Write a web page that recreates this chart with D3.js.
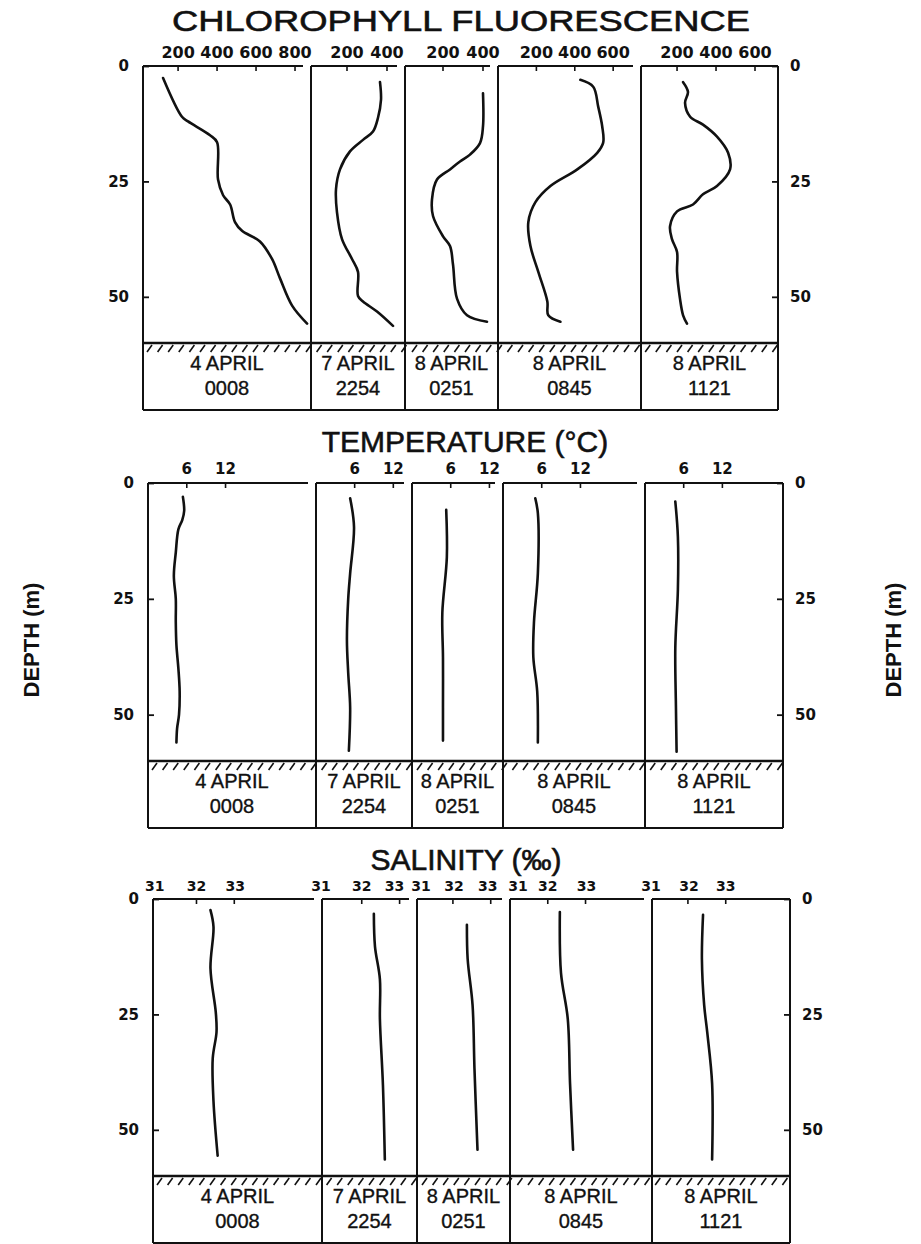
<!DOCTYPE html>
<html>
<head>
<meta charset="utf-8">
<script src="https://cdn.jsdelivr.net/npm/d3@7"></script>
<style>
  body { margin: 0; background: #fff; }
  svg { display: block; }
</style>
</head>
<body>
<svg id="fig" width="921" height="1244"></svg>
<script>
// ---- station labels ----
const stationDates = ["4 APRIL", "7 APRIL", "8 APRIL", "8 APRIL", "8 APRIL"];
const stationTimes = ["0008", "2254", "0251", "0845", "1121"];
const depthTicks = [0, 25, 50];
const depthDomain = [0, 60];

// ---- chlorophyll fluorescence (depth m, fluorescence) ----
const chlTicks = [[200, 400, 600, 800], [200, 400], [200, 400], [200, 400, 600], [200, 400, 600]];
const chlDomains = [[20, 882], [20, 490], [10, 475], [0, 745], [15, 718]];
const chl0008 = [[2.6,123],[11,220],[12,251],[15,364],[16.5,400],[24.6,405],[28,431],[30,467],[33.8,492],[35.7,528],[38,620],[41.8,682],[46,723],[51.9,785],[55.8,862]];
const chl2254 = [[3.5,365],[7.3,370],[11.2,355],[14.2,330],[16,280],[18.5,215],[22.4,165],[26.7,145],[31.7,150],[37.5,175],[41.8,225],[44.6,255],[49.8,255],[51,280],[53.2,350],[56.3,430]];
const chl0251 = [[5.9,400],[13.1,400],[16.7,385],[19.2,335],[20.7,285],[22.4,235],[24.6,170],[28.9,145],[32.5,150],[36.9,200],[39,235],[43,250],[50.4,270],[54,320],[55.4,420]];
const chl0845 = [[3,429],[4.5,496],[8.8,522],[13.1,543],[16.6,548],[18.8,517],[22.4,413],[26,273],[29.5,195],[33.8,158],[39,169],[44.6,210],[51,257],[54,262],[55.4,325]];
const chl1121 = [[3.5,231],[5.6,256],[8,241],[11,267],[12.7,333],[15.3,405],[18.8,462],[22.4,472],[26,405],[27.8,333],[30,282],[31.5,200],[34.7,164],[37.5,174],[40.3,200],[44.6,200],[50.4,215],[54,231],[55.8,251]];

// ---- temperature (depth m, deg C) ----
const tempTicks = [6, 12];
const tempDomains = [[0, 26], [0, 14.9], [0, 14.1], [0, 22], [0, 21.4]];
const temp0008 = [[3,5.4],[6,5.6],[8,5.3],[10,4.7],[15,4.3],[20,4.0],[25,4.3],[30,4.3],[35,4.4],[40,4.7],[45,4.9],[50,4.8],[53,4.5],[56,4.4]];
const temp2254 = [[3.3,5.3],[9.5,5.9],[19.5,5.3],[25,5.0],[34,4.8],[41,5.0],[48.5,5.3],[57.8,5.1]];
const temp0251 = [[5.8,5.3],[16,5.4],[28,4.7],[37.6,4.8],[48.5,4.8],[55.6,4.8]];
const temp0845 = [[3.3,5.0],[6.5,5.4],[19.5,5.4],[30,4.8],[37.6,4.7],[45,5.3],[56,5.4]];
const temp1121 = [[4,4.7],[11.6,5.1],[23,5.1],[35.5,4.7],[48.5,4.8],[58,4.9]];

// ---- salinity (depth m, per mil) ----
const salTicks = [31, 32, 33];
const salDomains = [[30.85, 35.32], [30.95, 33.46], [31.05, 33.51], [31.0, 34.76], [31.05, 34.70]];
const sal0008 = [[2.4,32.37],[6,32.45],[15,32.37],[24.5,32.51],[28.8,32.53],[34.5,32.43],[43.8,32.45],[55.6,32.56]];
const sal2254 = [[3.2,32.32],[10.3,32.35],[17.4,32.48],[26,32.48],[40.3,32.56],[56.4,32.61]];
const sal0251 = [[5.6,32.37],[13,32.39],[23,32.52],[36.7,32.57],[54.3,32.65]];
const sal0845 = [[2.8,32.32],[16,32.35],[26,32.53],[40,32.59],[54.3,32.67]];
const sal1121 = [[3.4,32.4],[13,32.37],[23,32.43],[28.8,32.51],[40,32.64],[56.4,32.64]];

// ---- layout of the three stacked figures ----
// labelShift: horizontal nudges (px) of crowded tick labels, per panel
const blocks = [
  { title: "CHLOROPHYLL FLUORESCENCE", titleX: 461, titleY: 31, titleLen: 578,
    top: 66, floor: 343, edges: [143, 311, 405, 498, 641, 778],
    domains: chlDomains, ticks: chlTicks, tickGap: 8, tickFont: 16,
    profiles: [chl0008, chl2254, chl0251, chl0845, chl1121], hideTick: null, labelShift: null },
  { title: "TEMPERATURE (°C)", titleX: 465, titleY: 452, titleLen: null,
    top: 483, floor: 761, edges: [148, 316, 412, 503, 645, 783],
    domains: tempDomains, ticks: tempDomains.map(() => tempTicks), tickGap: 9, tickFont: 15,
    profiles: [temp0008, temp2254, temp0251, temp0845, temp1121], hideTick: null, labelShift: null },
  { title: "SALINITY (‰)", titleX: 466, titleY: 870, titleLen: null,
    top: 899, floor: 1176, edges: [153, 322, 417, 510, 652, 790],
    domains: salDomains, ticks: salDomains.map(() => salTicks), tickGap: 8, tickFont: 14,
    profiles: [sal0008, sal2254, sal0251, sal0845, sal1121], hideTick: 31,
    labelShift: [[-4, 0, 1], [-3, 0, -5], [6, 1, -3], [8, 0, 1], [1, 1, 0]] }
];

const textFont = "'Liberation Sans', Arial, Helvetica, sans-serif";
const numFont = "'DejaVu Sans', 'Liberation Sans', sans-serif";
const ink = "#111";

const svg = d3.select("#fig");
svg.append("rect").attr("width", 921).attr("height", 1244).attr("fill", "#fff");

blocks.forEach(b => {
  const g = svg.append("g");
  const y = d3.scaleLinear().domain(depthDomain).range([b.top, b.floor]);
  const boxBottom = b.floor + 67;
  const e = b.edges;

  // title
  const title = g.append("text")
    .attr("x", b.titleX).attr("y", b.titleY)
    .attr("text-anchor", "middle")
    .attr("font-family", textFont).attr("font-size", 30)
    .attr("fill", ink).attr("stroke", ink).attr("stroke-width", 0.6)
    .text(b.title);
  if (b.titleLen) title.attr("textLength", b.titleLen).attr("lengthAdjust", "spacingAndGlyphs");

  const line = d3.line().curve(d3.curveCatmullRom.alpha(0.5));

  b.domains.forEach((dom, i) => {
    const x = d3.scaleLinear().domain(dom).range([e[i], e[i + 1]]);

    // top edge of the panel (short of the next divider, except the last one)
    g.append("line")
      .attr("x1", e[i]).attr("x2", i < 4 ? e[i + 1] - 8 : e[i + 1])
      .attr("y1", b.top).attr("y2", b.top)
      .attr("stroke", ink).attr("stroke-width", 2);

    // value axis along the top
    const ticks = b.ticks[i];
    g.selectAll(null).data(ticks.filter(t => t !== b.hideTick)).join("line")
      .attr("x1", d => x(d)).attr("x2", d => x(d))
      .attr("y1", b.top).attr("y2", b.top + 5)
      .attr("stroke", ink).attr("stroke-width", 1.6);
    g.selectAll(null).data(ticks).join("text")
      .attr("x", (d, k) => x(d) + (b.labelShift ? b.labelShift[i][k] : 0))
      .attr("y", b.top - b.tickGap)
      .attr("text-anchor", "middle")
      .attr("font-family", numFont).attr("font-weight", "bold")
      .attr("font-size", b.tickFont)
      .attr("fill", ink)
      .text(d => d);

    // profile
    g.append("path")
      .attr("d", line(b.profiles[i].map(p => [x(p[1]), y(p[0])])))
      .attr("fill", "none").attr("stroke", ink)
      .attr("stroke-width", 2.6).attr("stroke-linejoin", "round").attr("stroke-linecap", "round");

    // station label
    const cx = (e[i] + e[i + 1]) / 2;
    const avail = e[i + 1] - e[i] - 6;
    [[stationDates[i], b.floor + 27], [stationTimes[i], b.floor + 52]].forEach(([s, ty]) => {
      const t = g.append("text")
        .attr("x", cx).attr("y", ty)
        .attr("text-anchor", "middle")
        .attr("font-family", textFont).attr("font-size", 20)
        .attr("fill", ink).attr("stroke", ink).attr("stroke-width", 0.35)
        .text(s);
      const w = t.node().getComputedTextLength();
      if (w > avail) t.attr("textLength", avail).attr("lengthAdjust", "spacingAndGlyphs");
    });
  });

  // dividers and outer sides, through the station boxes
  g.selectAll(null).data(e).join("line")
    .attr("x1", d => d).attr("x2", d => d)
    .attr("y1", b.top).attr("y2", boxBottom)
    .attr("stroke", ink).attr("stroke-width", 2);

  // sea floor line with hatching
  g.append("line")
    .attr("x1", e[0]).attr("x2", e[5]).attr("y1", b.floor).attr("y2", b.floor)
    .attr("stroke", ink).attr("stroke-width", 2.6);
  g.selectAll(null).data(d3.range(e[0] + 4, e[5] - 3, 10.6)).join("line")
    .attr("x1", d => d).attr("y1", b.floor + 9)
    .attr("x2", d => d + 5).attr("y2", b.floor + 2)
    .attr("stroke", ink).attr("stroke-width", 1.6);

  // bottom of the station boxes
  g.append("line")
    .attr("x1", e[0]).attr("x2", e[5]).attr("y1", boxBottom).attr("y2", boxBottom)
    .attr("stroke", ink).attr("stroke-width", 2);

  // depth axes
  const left = g.append("g").attr("transform", `translate(${e[0]},0)`)
    .call(d3.axisLeft(y).tickValues(depthTicks).tickSize(-6).tickPadding(14));
  const right = g.append("g").attr("transform", `translate(${e[5]},0)`)
    .call(d3.axisRight(y).tickValues(depthTicks).tickSize(-6).tickPadding(12));
  [left, right].forEach(a => {
    a.select(".domain").remove();
    a.selectAll(".tick line").attr("stroke", ink).attr("stroke-width", 1.8);
    a.selectAll(".tick text")
      .attr("font-family", numFont).attr("font-weight", "bold").attr("font-size", 15)
      .attr("fill", ink);
  });
});

// side titles
[[31, 640], [893, 640]].forEach(([tx, ty]) => {
  svg.append("text")
    .attr("transform", `translate(${tx},${ty}) rotate(-90)`)
    .attr("text-anchor", "middle").attr("dominant-baseline", "central")
    .attr("font-family", textFont).attr("font-weight", "bold").attr("font-size", 22)
    .attr("fill", ink)
    .text("DEPTH (m)");
});
</script>
</body>
</html>
